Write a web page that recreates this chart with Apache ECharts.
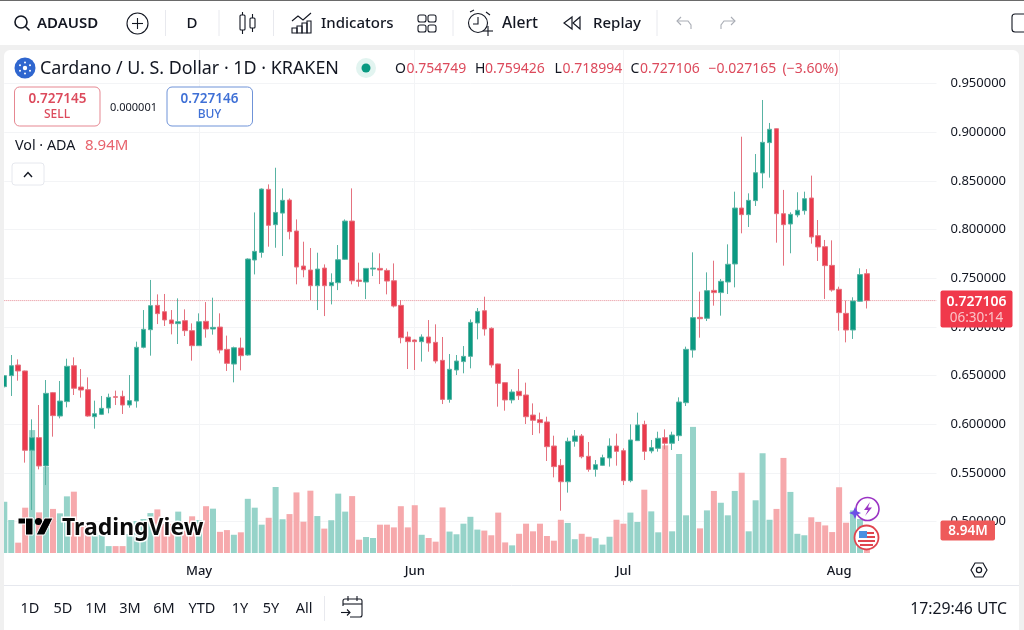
<!DOCTYPE html>
<html><head><meta charset="utf-8">
<style>html,body{margin:0;padding:0;background:#f0f0f0}#c{width:1024px;height:630px}</style>
<script src="https://cdn.jsdelivr.net/npm/echarts@6/dist/echarts.min.js"></script>
</head><body><div id="c"></div>
<script>
const firstDay = Date.UTC(2025, 3, 3);
const categoryCount = 135;
const monthLabels = {'2025-05-01':'May','2025-06-01':'Jun','2025-07-01':'Jul','2025-08-01':'Aug'};
const priceTicks = [0.5,0.55,0.6,0.65,0.7,0.75,0.8,0.85,0.9,0.95];
const opens = [.6387,.6500,.6609,.6548,.5733,.5863,.5572,.6325,.6085,.6233,
.6602,.6383,.6356,.6078,.6102,.6167,.6284,.6287,.6198,.6239,
.6791,.6972,.7222,.7157,.7072,.7034,.7065,.6962,.6808,.7058,
.6979,.6999,.6770,.6619,.6784,.6712,.7688,.7766,.8414,.8051,
.8170,.8304,.7986,.7626,.7585,.7424,.7605,.7424,.7455,.7695,
.8088,.7482,.7462,.7595,.7602,.7581,.7475,.7222,.6897,.6866,
.6849,.6897,.6842,.6657,.6256,.6558,.6644,.6698,.7041,.7167,
.6986,.6620,.6428,.6250,.6339,.6301,.6095,.6048,.6024,.5777,
.5578,.5410,.5825,.5880,.5671,.5537,.5578,.5654,.5777,.5729,
.5421,.5832,.5999,.5726,.5753,.5863,.5805,.5883,.6222,.6763,
.7099,.7089,.7376,.7353,.7462,.7647,.8222,.8154,.8298,.8582,
.8894,.9037,.8164,.8058,.8151,.8195,.8325,.7938,.7825,.7633,
.7387,.7140,.6969,.7264,.754749];
const closes = [.6500,.6602,.6548,.5733,.5863,.5572,.6318,.6089,.6239,.6596,
.6370,.6352,.6085,.6109,.6164,.6277,.6277,.6198,.6243,.6791,
.6976,.7219,.7137,.7072,.7034,.7054,.6962,.6808,.7054,.6979,
.6996,.6763,.6626,.6787,.6705,.7698,.7777,.8417,.8044,.8177,
.8301,.7979,.7616,.7588,.7424,.7595,.7424,.7458,.7691,.8088,
.7475,.7468,.7602,.7605,.7585,.7472,.7215,.6890,.6849,.6849,
.6897,.6835,.6650,.6256,.6565,.6650,.6698,.7047,.7160,.6979,
.6609,.6421,.6250,.6332,.6294,.6078,.6041,.6017,.5770,.5565,
.5410,.5825,.5880,.5667,.5537,.5585,.5657,.5777,.5722,.5421,
.5839,.5993,.5722,.5760,.5856,.5805,.5890,.6229,.6770,.7096,
.7085,.7373,.7353,.7469,.7644,.8222,.8154,.8301,.8585,.8897,
.9031,.8164,.8051,.8157,.8199,.8318,.7925,.7822,.7630,.7380,
.7147,.6969,.7267,.7538,.727106];
const highs = [.6506,.6712,.6667,.6552,.6051,.6198,.6455,.6332,.6445,.6674,
.6688,.6568,.6482,.6243,.6291,.6315,.6346,.6346,.6506,.6849,
.7174,.7483,.7335,.7339,.7174,.7294,.7181,.7037,.7140,.7256,
.7301,.7140,.6911,.6798,.6890,.7705,.8177,.8424,.8465,.8636,
.8424,.8321,.8105,.7876,.7811,.7763,.7643,.7551,.7842,.8105,
.8424,.7661,.7605,.7766,.7756,.7602,.7653,.7277,.6952,.6873,
.6924,.7071,.7027,.6897,.6722,.6712,.6804,.7078,.7195,.7311,
.6996,.6623,.6431,.6359,.6568,.6428,.6215,.6120,.6078,.5883,
.5643,.5863,.5941,.5900,.5818,.5633,.5688,.5856,.5904,.5753,
.5999,.6120,.6037,.5839,.5924,.5948,.5924,.6277,.6798,.7767,
.7363,.7561,.7681,.7493,.7849,.8390,.8955,.8373,.8777,.9332,
.9096,.9040,.8408,.8178,.8384,.8390,.8555,.8099,.7894,.7890,
.7414,.7271,.7305,.7603,.759426];
const lows = [.6380,.6291,.6448,.5606,.5120,.5537,.5376,.5873,.6061,.6174,
.6301,.6274,.6078,.5955,.6095,.6113,.6198,.6106,.6171,.6171,
.6780,.6705,.7030,.7010,.6924,.6825,.6907,.6654,.6805,.6890,
.6921,.6729,.6548,.6431,.6554,.6705,.7540,.7712,.7825,.7814,
.7729,.7900,.7438,.7510,.7277,.7174,.7112,.7232,.7379,.7690,
.7438,.7414,.7287,.7523,.7441,.7335,.7201,.6832,.6568,.6558,
.6644,.6746,.6626,.6208,.6222,.6506,.6524,.6575,.6873,.6911,
.6582,.6181,.6140,.6215,.6250,.6003,.5890,.5907,.5623,.5455,
.5112,.5298,.5770,.5650,.5513,.5462,.5571,.5565,.5575,.5376,
.5404,.5830,.5633,.5702,.5719,.5743,.5736,.5829,.6188,.6685,
.6890,.7061,.7219,.7116,.7339,.7407,.7962,.8027,.8243,.8425,
.8534,.7866,.7630,.7757,.8127,.8154,.7856,.7678,.7288,.7363,
.6962,.6842,.6877,.7260,.718994];
const volumes = [20.8,13.4,4.2,18.4,49.9,16.5,34.9,17.9,16.1,23.0,
24.9,10.6,11.0,8.1,7.3,2.8,2.8,2.8,7.7,13.0,
13.8,16.2,17.7,11.8,11.8,16.8,13.0,14.9,13.4,19.0,
18.0,8.6,9.3,7.4,8.4,22.0,18.4,11.5,14.3,26.8,
13.7,15.8,24.6,12.7,25.3,15.0,9.9,13.3,24.1,16.8,
23.1,5.4,6.5,6.1,11.5,11.5,10.4,19.0,10.4,19.4,
7.4,6.1,4.6,18.5,8.7,7.6,11.9,14.7,9.5,9.1,
7.2,16.4,4.3,3.1,7.8,11.9,8.8,11.9,6.9,5.0,
13.5,12.2,5.6,7.8,6.6,6.0,3.4,6.6,13.5,11.9,
16.4,12.6,25.7,16.9,8.4,43.7,8.8,40.2,15.3,51.2,
10.0,17.3,25.2,20.4,15.3,25.2,32.6,8.8,21.4,40.5,
13.5,17.9,38.6,24.8,7.8,7.2,14.5,12.6,11.2,8.5,
26.7,12.3,17.3,13.8,8.94];
const rangeButtons = ['1D','5D','1M','3M','6M','YTD','1Y','5Y','All'];

const categories = [];
for (let i = 0; i < categoryCount; i++) categories.push(new Date(firstDay + i * 864e5).toISOString().slice(0, 10));
const isMonth = (i, v) => monthLabels[v] != null;
const UP = '#0b9a82', DOWN = '#ea3a4c', UPW = '#58b3a3', DOWNW = '#e5727f';
const FONT = '"Noto Sans"';
const INK = '#131722';

const G = [];
let Z = 100;
function txt(text, x, y, size, fill, opt) {
  opt = opt || {};
  G.push({type:'text', z:opt.z||Z, silent:true, x, y:y+1, style:{text, fill: fill||INK,
    font:(opt.weight||'normal')+' '+size+'px '+FONT, textAlign:opt.align||'left', textVerticalAlign:'middle',
    stroke:opt.stroke, lineWidth:opt.lw}});
}
function rect(x,y,w,h,fill,stroke,r,z,lw){G.push({type:'rect',silent:true,z:z||Z,shape:{x,y,width:w,height:h,r:r||0},style:{fill:fill||'none',stroke:stroke||'none',lineWidth:lw||1}});}
function circ(cx,cy,r,fill,stroke,lw){G.push({type:'circle',silent:true,z:Z,shape:{cx,cy,r},style:{fill:fill||'none',stroke:stroke||'none',lineWidth:lw||1}});}
function line(x1,y1,x2,y2,stroke,lw){G.push({type:'line',silent:true,z:Z,shape:{x1,y1,x2,y2},style:{stroke:stroke||INK,lineWidth:lw||1}});}
function poly(points,fill,stroke,lw,open){G.push({type:open?'polyline':'polygon',silent:true,z:Z,shape:{points},style:{fill:open?'none':(fill||'none'),stroke:stroke||'none',lineWidth:lw||1}});}

/* panels */
rect(0,0,1024,630,'#f0f0f0',null,0,-20);
rect(4,50,1015,580,'#ffffff',null,[6,6,0,0],-19);
rect(0,46,4,584,'#f0f0f0',null,0,50);
rect(0,0,1024,45,'#ffffff',null,0,60);
rect(0,0,1024,1,'#6a6a6a',null,0,61);
line(4,585.5,1019,585.5,'#e6e8ee',1);

/* top toolbar */
circ(21,22,6,null,INK,1.6); line(25.5,26.5,29.5,30.5,INK,1.6);
txt('ADAUSD',37,23,15,INK,{weight:'600'});
circ(137.5,23.5,10.5,null,INK,1.1); line(132,23.5,143,23.5,INK,1.1); line(137.5,18,137.5,29,INK,1.1);
[165.5,219,273.5,453,657].forEach(x=>line(x,10,x,36,'#e8e9ee',1));
txt('D',192,23,15,INK,{align:'center',weight:'500'});
rect(240,15,5,15,null,INK,1,0,1.1); line(242.5,12,242.5,15,INK,1.1); line(242.5,30,242.5,34,INK,1.1);
rect(250,18,5,10,null,INK,1,0,1.1); line(252.5,14,252.5,18,INK,1.1); line(252.5,28,252.5,32,INK,1.1);
poly([[292,21],[298,16],[303,20],[311,13]],null,INK,1.1,true);
rect(292,28,5,5,null,INK,0,0,1.1); rect(297,26,5,7,null,INK,0,0,1.1); rect(302,23,5,10,null,INK,0,0,1.1); rect(307,21,4,12,null,INK,0,0,1.1);
txt('Indicators',321,23,15,INK,{weight:'500'});
[[418,15],[428,15],[418,25],[428,25]].forEach(p=>rect(p[0],p[1],8,7,null,INK,2,0,1.1));
circ(478,23,9.5,null,INK,1.1); poly([[478,17],[478,24],[473,24]],null,INK,1.1,true); line(470,12,474,10,INK,1.1); line(486,12,490,15,INK,1.1);
line(483,31,493,31,INK,1.1); line(488,26,488,36,INK,1.1);
txt('Alert',502,23,15.6,INK,{weight:'500'});
poly([[572,17],[564,23],[572,29]],null,INK,1.2); poly([[580,17],[573,23],[580,29]],null,INK,1.2);
txt('Replay',593,23,15,INK,{weight:'500'});
poly([[681,17],[677,21],[681,25]],null,'#a9adb5',1.1,true); poly([[677,21],[688,21],[691,25],[691,29]],null,'#a9adb5',1.1,true);
poly([[731,17],[735,21],[731,25]],null,'#a9adb5',1.1,true); poly([[735,21],[724,21],[721,25],[721,29]],null,'#a9adb5',1.1,true);
rect(1012,14,16,18,null,INK,3,0,1.1);

/* legend */
circ(25,68,10.5,'#2f66cf');
circ(25,68,2.2,'#ffffff'); [[25,62.5],[25,73.5],[20,65.2],[30,65.2],[20,70.8],[30,70.8]].forEach(p=>circ(p[0],p[1],1,'#ffffff'));
txt('Cardano / U. S. Dollar · 1D · KRAKEN',40,68,17.9,INK);
circ(366,68,10,'#e2f4f0'); circ(366,68,4.5,'#089981');
const RED='#dc4a5c';
[['O',395,'0.754749',406.5],['H',475,'0.759426',485],['L',554.5,'0.718994',562.5],['C',630.5,'0.727106',640]].forEach(a=>{
  txt(a[0],a[1],68,14,INK); txt(a[2],a[3],68,14,RED);});
txt('−0.027165',708.5,68,14,RED); txt('(−3.60%)',782.5,68,14,RED);

rect(14.5,87,85.5,39,'#ffffff','#e68791',5);
txt('0.727145',57.5,98,13.5,RED,{align:'center',weight:'600'});
txt('SELL',57,114,12,RED,{align:'center',weight:'500'});
txt('0.000001',133.5,107,11,INK,{align:'center'});
rect(167,87,85.5,39,'#ffffff','#6f93d8',5);
txt('0.727146',209.5,98,13.5,'#3f70d6',{align:'center',weight:'600'});
txt('BUY',209.5,114,12,'#3f70d6',{align:'center',weight:'500'});
txt('Vol · ADA',15,145,14.3,INK);
txt('8.94M',85,145,15,'#e8636c');
rect(12,163,32,22,'#ffffff','#e6e8ee',3);
poly([[24,177],[28,172.5],[32,177]],null,INK,1.4,true);

/* price tags */
rect(940.5,290.5,72,37,'#f0394b',null,2);
txt('0.727106',976.5,301,14,'#ffffff',{align:'center',weight:'600'});
txt('06:30:14',976.5,317,13.5,'#fbc3c8',{align:'center'});
rect(940.5,520.5,54.5,20,'#ee5a5a',null,2);
txt('8.94M',968,530,13.5,'#ffffff',{align:'center',weight:'600'});

/* watermark logo */
const LW='#ffffff';
rect(18,518,15,6,'#000',LW,0,0,1);rect(25.5,518,7.5,17,'#000',LW,0,0,1);
circ(38.5,521.5,3.6,'#000');
poly([[44.5,518],[53,518],[44.5,535],[36,535]],'#000',LW,1);
txt('TradingView',62,527.5,23,'#0b0b0b',{weight:'700',stroke:'#ffffff',lw:3});

/* floating icons */
circ(867.5,509,11.5,'#ffffff','#9b34c4',1.6);
poly([[870,502],[864,510],[868,510],[865,516],[872,507.5],[868,507.5]],'#9b34c4');
poly([[855,507],[856.8,511.2],[861,513],[856.8,514.8],[855,519],[853.2,514.8],[849,513],[853.2,511.2]],'#6a4fe6');
circ(866.5,537.5,12,'#ffffff','#e0454f',1.8);
rect(859,531,8,7,'#4a90e2');
rect(867,532,7,2,'#e0454f'); rect(867,536,8,2,'#e0454f'); rect(858,540,17,2,'#e0454f'); rect(860,544,13,2,'#e0454f');

/* settings */
poly([[971,570],[975,563],[983,563],[987,570],[983,577],[975,577]],null,INK,1.2);
circ(979,570,2.6,null,INK,1.2);

/* bottom toolbar */
const rangeX=[30,63,96,130,164,202,240,271,304];
rangeButtons.forEach((b,i)=>txt(b,rangeX[i],608,14.5,INK,{align:'center'}));
line(324.5,596,324.5,621,'#e8e9ee',1);
rect(343,599,19,18,null,INK,2,0,1.1); line(343,604,362,604,INK,1.1);
line(348,596,348,601,INK,1.1); line(357,596,357,601,INK,1.1);
rect(339,606,11,13,'#ffffff'); poly([[341,612.5],[350,612.5]],null,INK,1.1,true); poly([[347,609.5],[350,612.5],[347,615.5]],null,INK,1.1,true);
txt('17:29:46 UTC',1007,608,15.8,INK,{align:'right'});

const candleData = opens.map((o,i)=>[o,closes[i],lows[i],highs[i]]);
const volumeData = volumes.map((v,i)=>({value:v,itemStyle:{color:closes[i]>=opens[i]?'#96d3c9':'#f6a9ac'}}));
const lastClose = closes[closes.length-1];

const chart = echarts.init(document.getElementById('c'), null, {renderer:'canvas'});
chart.setOption({
  animation:false,
  backgroundColor:'transparent',
  graphic:{elements:G},
  grid:[
    {left:4.3,top:50,width:932.2,height:503},
    {left:4.3,top:413,width:932.2,height:140}
  ],
  xAxis:[
    {type:'category',gridIndex:0,data:categories,boundaryGap:false,
     axisLine:{show:false},axisTick:{show:false},
     axisLabel:{interval:isMonth,formatter:v=>monthLabels[v]||'',color:INK,fontFamily:FONT,fontSize:13,fontWeight:500,margin:12,hideOverlap:false},
     splitLine:{show:true,interval:isMonth,lineStyle:{color:'#f3f4f6',width:1}}},
    {type:'category',gridIndex:1,data:categories,boundaryGap:false,show:false}
  ],
  yAxis:[
    {type:'value',gridIndex:0,position:'right',min:0.46777,max:0.98457,scale:true,
     axisLine:{show:false},
     axisTick:{show:false,customValues:priceTicks},
     axisLabel:{customValues:priceTicks,formatter:v=>v.toFixed(6),color:INK,fontFamily:FONT,fontSize:13,margin:14,align:'left',padding:[4,0,0,0]},
     splitLine:{show:true,lineStyle:{color:'#f3f4f6',width:1}}},
    {type:'value',gridIndex:1,min:0,max:56.84,show:false,splitLine:{show:false}}
  ],
  series:[
    {type:'bar',name:'Vol',xAxisIndex:1,yAxisIndex:1,data:volumeData,barWidth:6,z:1,silent:true},
    {type:'line',name:'Last',xAxisIndex:0,yAxisIndex:0,data:categories.map(()=>lastClose),symbol:'none',z:2,silent:true,
     lineStyle:{type:'dotted',color:'#e58a94',width:1}},
    {type:'candlestick',name:'ADAUSD',xAxisIndex:0,yAxisIndex:0,data:candleData,barWidth:5,z:3,silent:true,
     itemStyle:{color:UP,color0:DOWN,borderColor:UPW,borderColor0:DOWNW,borderWidth:1}}
  ]
});
</script></body></html>
